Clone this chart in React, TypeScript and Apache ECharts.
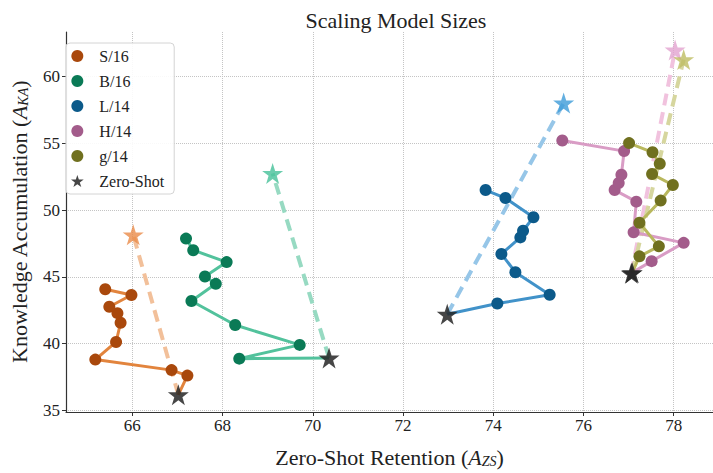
import React, { useEffect, useRef } from "react";
import * as echarts from "echarts";

// ---- data ----
const modelNames = ["S/16", "B/16", "L/14", "H/14", "g/14"];
const zeroShotX = [67.02, 70.36, 72.98, 77.06, 77.08];
const zeroShotY = [36.15, 38.91, 42.19, 45.27, 45.3];
const upperX = [66.02, 69.11, 75.56, 78.03, 78.22];
const upperY = [48.14, 52.75, 58.02, 62.0, 61.28];

const s16X = [67.22, 66.87, 65.18, 65.64, 65.74, 65.67, 65.49, 65.98, 65.4];
const s16Y = [37.59, 38.0, 38.79, 40.11, 41.55, 42.27, 42.75, 43.63, 44.06];
const b16X = [68.37, 69.71, 68.28, 67.31, 67.85, 67.61, 68.09, 67.35, 67.19];
const b16Y = [38.86, 39.89, 41.38, 43.18, 44.47, 45.02, 46.1, 46.99, 47.86];
const l14X = [74.09, 75.25, 74.49, 74.18, 74.6, 74.66, 74.89, 74.27, 73.83];
const l14Y = [42.99, 43.65, 45.34, 46.71, 47.95, 48.45, 49.46, 50.9, 51.5];
const h14X = [77.51, 78.22, 77.11, 77.17, 76.69, 76.78, 76.84, 76.9, 75.53];
const h14Y = [46.17, 47.54, 48.33, 50.63, 51.5, 52.03, 52.65, 54.42, 55.22];
const g14X = [77.24, 77.67, 77.24, 77.71, 77.98, 77.52, 77.69, 77.53, 77.01];
const g14Y = [46.53, 47.28, 49.05, 50.71, 51.88, 52.7, 53.47, 54.33, 55.02];

const xTicks = [66, 68, 70, 72, 74, 76, 78];
const yTicks = [35, 40, 45, 50, 55, 60];

const trajX = [s16X, b16X, l14X, h14X, g14X];
const trajY = [s16Y, b16Y, l14Y, h14Y, g14Y];

const markerColors = ["#A9480C", "#0A7A56", "#0C5A8A", "#A35C8B", "#70701F"];
const lineColors = ["#E2843D", "#52C29C", "#4192C9", "#D99CC5", "#B9B85E"];
const dashColors = ["#F2C09A", "#97DAC2", "#96C6E8", "#F1C2DE", "#D6D69E"];
const starColors = ["#EA8B48", "#45C199", "#3C9BD8", "#E2A3D0", "#BEBD62"];

const STAR =
  "path://M50,0 L61.8,35.4 L99,35.4 L69,57.3 L80.4,92.7 L50,70.8 L19.6,92.7 L31,57.3 L1,35.4 L38.2,35.4 Z";
const FONT = "Liberation Serif, DejaVu Serif, serif";

export default function App() {
  const ref = useRef<HTMLDivElement>(null);
  useEffect(() => {
    document.body.style.margin = "0";
    if (!ref.current) return;
    const chart = echarts.init(ref.current, undefined, { renderer: "svg" });

    const series: any[] = [];
    modelNames.forEach((name, i) => {
      series.push({
        name: name + " target",
        type: "line",
        data: [
          [zeroShotX[i], zeroShotY[i]],
          [upperX[i], upperY[i]],
        ],
        symbol: "none",
        lineStyle: { color: dashColors[i], width: 4, type: [12, 7] },
        z: 2,
      });
    });
    modelNames.forEach((name, i) => {
      const pts: any[] = [
        { value: [zeroShotX[i], zeroShotY[i]], symbol: "none" },
      ];
      trajX[i].forEach((x, k) => pts.push([x, trajY[i][k]]));
      series.push({
        name,
        type: "line",
        data: pts,
        symbol: "circle",
        symbolSize: 12,
        itemStyle: { color: markerColors[i], opacity: 1 },
        lineStyle: { color: lineColors[i], width: 3 },
        z: 3,
      });
    });
    modelNames.forEach((name, i) => {
      series.push({
        name: name + " upper",
        type: "scatter",
        data: [[upperX[i], upperY[i]]],
        symbol: STAR,
        symbolSize: 21,
        itemStyle: { color: starColors[i] },
        z: 4,
      });
    });
    series.push({
      name: "Zero-Shot",
      type: "scatter",
      data: zeroShotX.map((x, i) => [x, zeroShotY[i]]),
      symbol: STAR,
      symbolSize: 21,
      itemStyle: { color: "#262626", opacity: 0.85 },
      z: 5,
    });

    const legendData: any[] = modelNames.map((n) => ({ name: n, icon: "circle" }));
    legendData.push({ name: "Zero-Shot", icon: STAR });

    const nameRich = {
      n: { fontFamily: FONT, fontSize: 22, color: "#222" },
      a: { fontFamily: FONT, fontSize: 22, fontStyle: "italic", color: "#222" },
      s: { fontFamily: FONT, fontSize: 14, fontStyle: "italic", color: "#222", verticalAlign: "bottom" },
    };
    const tickRich = { t: { fontFamily: FONT, fontSize: 17, color: "#222" } };

    chart.setOption({
      animation: false,
      backgroundColor: "#ffffff",
      textStyle: { fontFamily: FONT },
      title: {
        text: "Scaling Model Sizes",
        left: 391,
        textAlign: "center",
        top: 4,
        textStyle: { fontFamily: FONT, fontSize: 22, fontWeight: "normal", color: "#222" },
      },
      legend: {
        data: legendData,
        orient: "vertical",
        left: 66,
        top: 43,
        padding: [5, 10, 5, 5],
        itemWidth: 34,
        itemHeight: 12,
        itemGap: 9,
        borderColor: "#d4d4d4",
        borderWidth: 1,
        borderRadius: 4,
        backgroundColor: "rgba(255,255,255,0.9)",
        textStyle: { fontFamily: FONT, fontSize: 16, color: "#222", lineHeight: 14 },
      },
      grid: { left: 59, right: -3, top: 32, bottom: 45, containLabel: false },
      xAxis: {
        type: "value",
        min: 64.53,
        max: 78.87,
        name: "{n|Zero-Shot Retention (}{a|A}{s|ZS}{n|)}",
        nameLocation: "middle",
        nameGap: 34,
        nameTextStyle: { rich: nameRich },
        axisLine: { show: true, lineStyle: { color: "#333", width: 1.2 } },
        axisTick: { show: true, length: 4, lineStyle: { color: "#333" }, customValues: xTicks },
        axisLabel: {
          customValues: xTicks,
          formatter: (v: number) => "{t|" + v + "}",
          rich: tickRich,
          fontFamily: FONT,
          fontSize: 17,
          color: "#222",
          margin: 5,
        },
        splitLine: { show: true, lineStyle: { color: "#c4c4c4", type: "dotted", width: 1 } },
      },
      yAxis: {
        type: "value",
        min: 34.86,
        max: 63.35,
        name: "{n|Knowledge Accumulation (}{a|A}{s|KA}{n|)}",
        nameLocation: "middle",
        nameGap: 36,
        nameRotate: 90,
        nameTextStyle: { rich: nameRich },
        axisLine: { show: true, lineStyle: { color: "#333", width: 1.2 } },
        axisTick: { show: true, length: 4, lineStyle: { color: "#333" }, customValues: yTicks },
        axisLabel: {
          customValues: yTicks,
          formatter: (v: number) => "{t|" + v + "}",
          rich: tickRich,
          fontFamily: FONT,
          fontSize: 17,
          color: "#222",
          margin: 6,
        },
        splitLine: { show: true, lineStyle: { color: "#c4c4c4", type: "dotted", width: 1 } },
      },
      series,
    });
    return () => chart.dispose();
  }, []);
  return <div ref={ref} style={{ width: 713, height: 473 }} />;
}
